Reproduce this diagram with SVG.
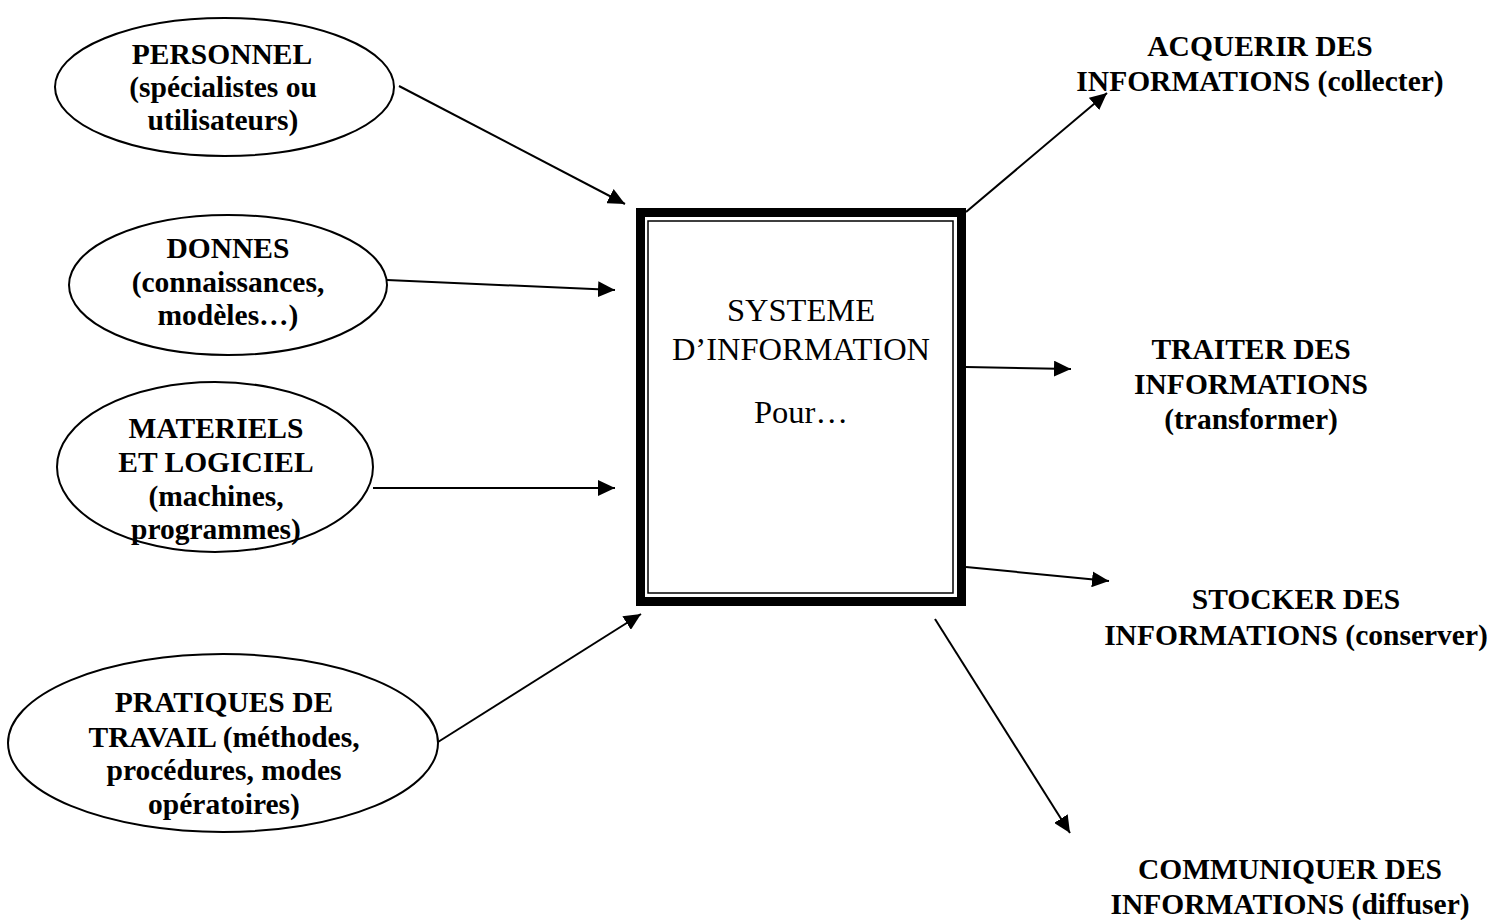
<svg xmlns="http://www.w3.org/2000/svg" width="1504" height="920" viewBox="0 0 1504 920">
<style>
.ell{fill:#fff;stroke:#000;stroke-width:2}
.lbl{font-family:"Liberation Serif","Times New Roman",serif;font-weight:bold;font-size:29.5px;fill:#000;text-anchor:middle}
.box{font-family:"Liberation Serif","Times New Roman",serif;font-size:32.5px;fill:#000;text-anchor:middle}
.con{stroke:#000;stroke-width:2;fill:none;marker-end:url(#ah)}
</style>
<defs>
<marker id="ah" markerUnits="userSpaceOnUse" markerWidth="18" markerHeight="16" refX="17" refY="8" orient="auto">
<path d="M0,0 L17,8 L0,16 Z" fill="#000"/>
</marker>
</defs>
<rect width="1504" height="920" fill="#fff"/>
<g id="connectors">
<line class="con" x1="399" y1="86" x2="625" y2="204"/>
<line class="con" x1="387" y1="280" x2="615" y2="290"/>
<line class="con" x1="373" y1="488" x2="615" y2="488"/>
<line class="con" x1="438" y1="742" x2="641" y2="614"/>
<line class="con" x1="966" y1="212" x2="1107" y2="93"/>
<line class="con" x1="966" y1="367" x2="1071" y2="369"/>
<line class="con" x1="966" y1="567" x2="1109" y2="581"/>
<line class="con" x1="935" y1="619" x2="1070" y2="833"/>
</g>
<g id="personnel">
<ellipse class="ell" cx="224.5" cy="87" rx="169.5" ry="69"/>
<text class="lbl" x="222" y="64">PERSONNEL</text>
<text class="lbl" x="223" y="97">(spécialistes ou</text>
<text class="lbl" x="223" y="130">utilisateurs)</text>
</g>
<g id="donnes">
<ellipse class="ell" cx="228" cy="285" rx="159" ry="70"/>
<text class="lbl" x="228" y="258">DONNES</text>
<text class="lbl" x="228" y="292">(connaissances,</text>
<text class="lbl" x="228" y="325">modèles…)</text>
</g>
<g id="materiels">
<ellipse class="ell" cx="215" cy="467" rx="158" ry="85"/>
<text class="lbl" x="216" y="438">MATERIELS</text>
<text class="lbl" x="216" y="472">ET LOGICIEL</text>
<text class="lbl" x="216" y="506">(machines,</text>
<text class="lbl" x="216" y="539">programmes)</text>
</g>
<g id="pratiques">
<ellipse class="ell" cx="223" cy="743" rx="215" ry="89"/>
<text class="lbl" x="224" y="712">PRATIQUES DE</text>
<text class="lbl" x="224" y="747">TRAVAIL (méthodes,</text>
<text class="lbl" x="224" y="780">procédures, modes</text>
<text class="lbl" x="224" y="814">opératoires)</text>
</g>
<g id="systeme">
<rect x="640.5" y="212.5" width="321" height="389" fill="#fff" stroke="#000" stroke-width="9"/>
<rect x="648" y="221" width="305" height="372" fill="none" stroke="#000" stroke-width="1.5"/>
<text class="box" x="801" y="321">SYSTEME</text>
<text class="box" x="801" y="360">D’INFORMATION</text>
<text class="box" x="801" y="423">Pour…</text>
</g>
<g id="acquerir">
<text class="lbl" x="1260" y="56">ACQUERIR DES</text>
<text class="lbl" x="1260" y="91">INFORMATIONS (collecter)</text>
</g>
<g id="traiter">
<text class="lbl" x="1251" y="359">TRAITER DES</text>
<text class="lbl" x="1251" y="394">INFORMATIONS</text>
<text class="lbl" x="1251" y="429">(transformer)</text>
</g>
<g id="stocker">
<text class="lbl" x="1296" y="609">STOCKER DES</text>
<text class="lbl" x="1296" y="645">INFORMATIONS (conserver)</text>
</g>
<g id="communiquer">
<text class="lbl" x="1290" y="879">COMMUNIQUER DES</text>
<text class="lbl" x="1290" y="914">INFORMATIONS (diffuser)</text>
</g>
</svg>
